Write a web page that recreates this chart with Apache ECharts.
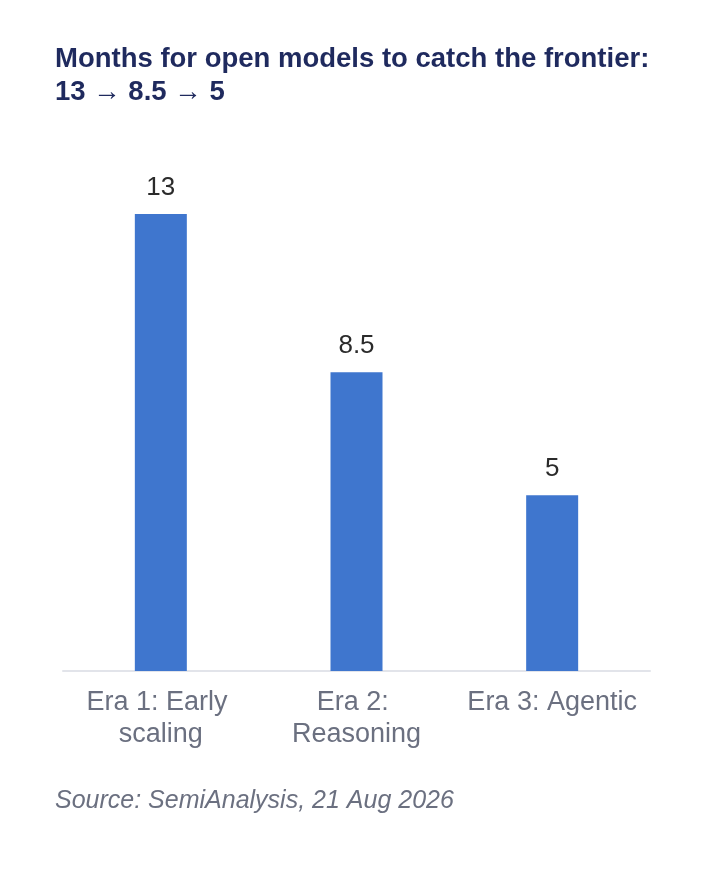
<!DOCTYPE html>
<html>
<head>
<meta charset="utf-8">
<script src="https://cdn.jsdelivr.net/npm/echarts@6/dist/echarts.min.js"></script>
<style>
  html, body { margin: 0; padding: 0; background: #fff; }
  #chart { width: 714px; height: 880px; }
</style>
</head>
<body>
<div id="chart"></div>
<script>
const eras = ["Era 1: Early scaling", "Era 2: Reasoning", "Era 3: Agentic"];
const months = [13, 8.5, 5];

const FONT = "'Liberation Sans', Arial, Helvetica, sans-serif";

const chart = echarts.init(document.getElementById("chart"));

chart.setOption({
  backgroundColor: "#ffffff",
  animation: false,
  title: {
    text: "Months for open models to catch the frontier:\n13 \u2192 8.5 \u2192 5",
    left: 50,
    top: 38,
    textStyle: {
      fontFamily: FONT,
      fontSize: 27.5,
      fontWeight: "bold",
      color: "#1f2a5e",
      lineHeight: 33,
    },
  },
  grid: { left: 63, right: 64, top: 214, bottom: 209 },
  xAxis: {
    type: "category",
    data: eras,
    axisLine: { lineStyle: { color: "#e2e4ea", width: 2 } },
    axisTick: { show: false },
    axisLabel: {
      fontFamily: FONT,
      fontSize: 27,
      color: "#6b7080",
      lineHeight: 32,
      margin: 16,
      width: 190,
      overflow: "break",
      interval: 0,
    },
  },
  yAxis: {
    type: "value",
    min: 0,
    max: 13,
    show: false,
    splitLine: { show: false },
  },
  series: [
    {
      type: "bar",
      data: months,
      barWidth: 52,
      itemStyle: { color: "#3f76ce" },
      label: {
        show: true,
        position: "top",
        distance: 13,
        fontFamily: FONT,
        fontSize: 26,
        color: "#2b2b2b",
      },
    },
  ],
  graphic: [
    {
      type: "text",
      left: 55,
      top: 789,
      style: {
        text: "Source: SemiAnalysis, 21 Aug 2026",
        font: "italic 25px " + FONT,
        fill: "#6b7080",
      },
    },
  ],
});
</script>
</body>
</html>
